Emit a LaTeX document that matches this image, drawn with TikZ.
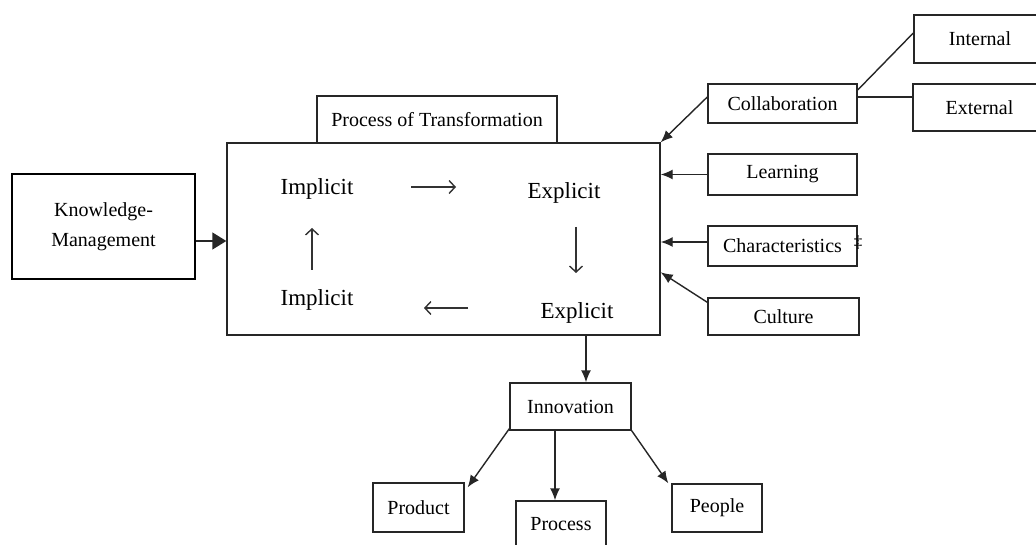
\documentclass[tikz,border=0pt]{standalone}
\usepackage{fontspec}
\setmainfont{Liberation Serif}
\usetikzlibrary{arrows.meta,calc}
\begin{document}
\begin{tikzpicture}[x=1pt,y=-1pt,
  every node/.style={font=\fontsize{20}{26}\selectfont},
  box/.style={draw=black!85,line width=1.4pt,inner sep=0pt,align=center},
  big/.style={font=\fontsize{23}{27}\selectfont,inner sep=0pt},
  conn/.style={draw=black!85,line width=1.4pt},
  arr/.style={conn,-{Latex[length=12pt,width=10pt]}},
  glypharr/.style={draw=black!80,line width=1.4pt,-{Straight Barb[length=6pt,width=13pt]}}]
\useasboundingbox (0,0) rectangle (1036,545);
\fill[white] (0,0) rectangle (1036,545);
% left
\node[box,line width=2.4pt,draw=black,minimum width=183pt,minimum height=105pt,font=\fontsize{20}{30}\selectfont] (km) at (103.5,226.5) {Knowledge-\\Management};
% main block
\node[box,minimum width=240pt,minimum height=47pt] (pot) at (437,119.5) {Process of Transformation};
\node[box,fill=white,minimum width=433pt,minimum height=192pt] (main) at (443.5,239) {};
\node[big] (imp1) at (317,189) {Implicit};
\node[big] (exp1) at (564,193) {Explicit};
\node[big] (imp2) at (317,300) {Implicit};
\node[big] (exp2) at (577,313) {Explicit};
\coordinate (r1) at (411,187); \coordinate (r2) at (456,187);
\coordinate (d1) at (576,227); \coordinate (d2) at (576,273);
\coordinate (l1) at (468,308); \coordinate (l2) at (424,308);
\coordinate (u1) at (312,270); \coordinate (u2) at (312,228);
\draw[glypharr] (r1) -- (r2);
\draw[glypharr] (d1) -- (d2);
\draw[glypharr] (l1) -- (l2);
\draw[glypharr] (u1) -- (u2);
\draw[conn,-{Triangle[length=14pt,width=17pt]}] ([yshift=-2pt]main.west -| km.east) -- ([yshift=-2pt]main.west);
% right side
\node[box,minimum width=149pt,minimum height=39pt] (collab) at (782.5,103.5) {Collaboration};
\node[box,minimum width=149pt,minimum height=41pt] (learn) at (782.5,174.5) {Learning};
\node[box,minimum width=149pt,minimum height=40pt] (char) at (782.5,246) {Characteristics};
\node[box,minimum width=151pt,minimum height=37pt] (cult) at (783.5,316.5) {Culture};
\node[font=\fontsize{17}{17}\selectfont,inner sep=0pt] (mark) at (858,243) {‡};
\node[box,minimum width=132pt,minimum height=48pt,text width=132pt] (int) at (980,39) {Internal};
\node[box,minimum width=133pt,minimum height=47pt,text width=133pt] (ext) at (979.5,107.5) {External};
\draw[conn] ([yshift=13.5pt]collab.east) -- ([yshift=6pt]int.west);
\draw[conn] ([yshift=6.5pt]collab.east) -- ([yshift=6.5pt]collab.east -| ext.west);
\draw[arr] ([yshift=6.5pt]collab.west) -- (main.north east);
\draw[arr] (learn.west) -- (learn.west -| main.east);
\draw[arr] ([yshift=4pt]char.west) -- ([yshift=4pt]char.west -| main.east);
\draw[arr] ([yshift=-5pt]cult.north west) -- ($(main.north east)+(0,130)$);
% bottom
\node[box,minimum width=121pt,minimum height=47pt] (innov) at (570.5,406.5) {Innovation};
\node[box,minimum width=91pt,minimum height=49pt] (prod) at (418.5,507.5) {Product};
\node[box,minimum width=90pt,minimum height=47pt] (proc) at (561,524.5) {Process};
\node[box,minimum width=90pt,minimum height=48pt] (peop) at (717,508) {People};
\draw[arr] ([xshift=15.5pt]innov.north |- main.south) -- ([xshift=15.5pt]innov.north);
\draw[arr] ([yshift=2pt]innov.south west) -- ([xshift=3pt,yshift=-5pt]prod.north east);
\draw[arr] ([xshift=-6pt]proc.north |- innov.south) -- ([xshift=-6pt]proc.north);
\draw[arr] (innov.south east) -- ([xshift=-3pt]peop.north west);
\end{tikzpicture}
\end{document}
